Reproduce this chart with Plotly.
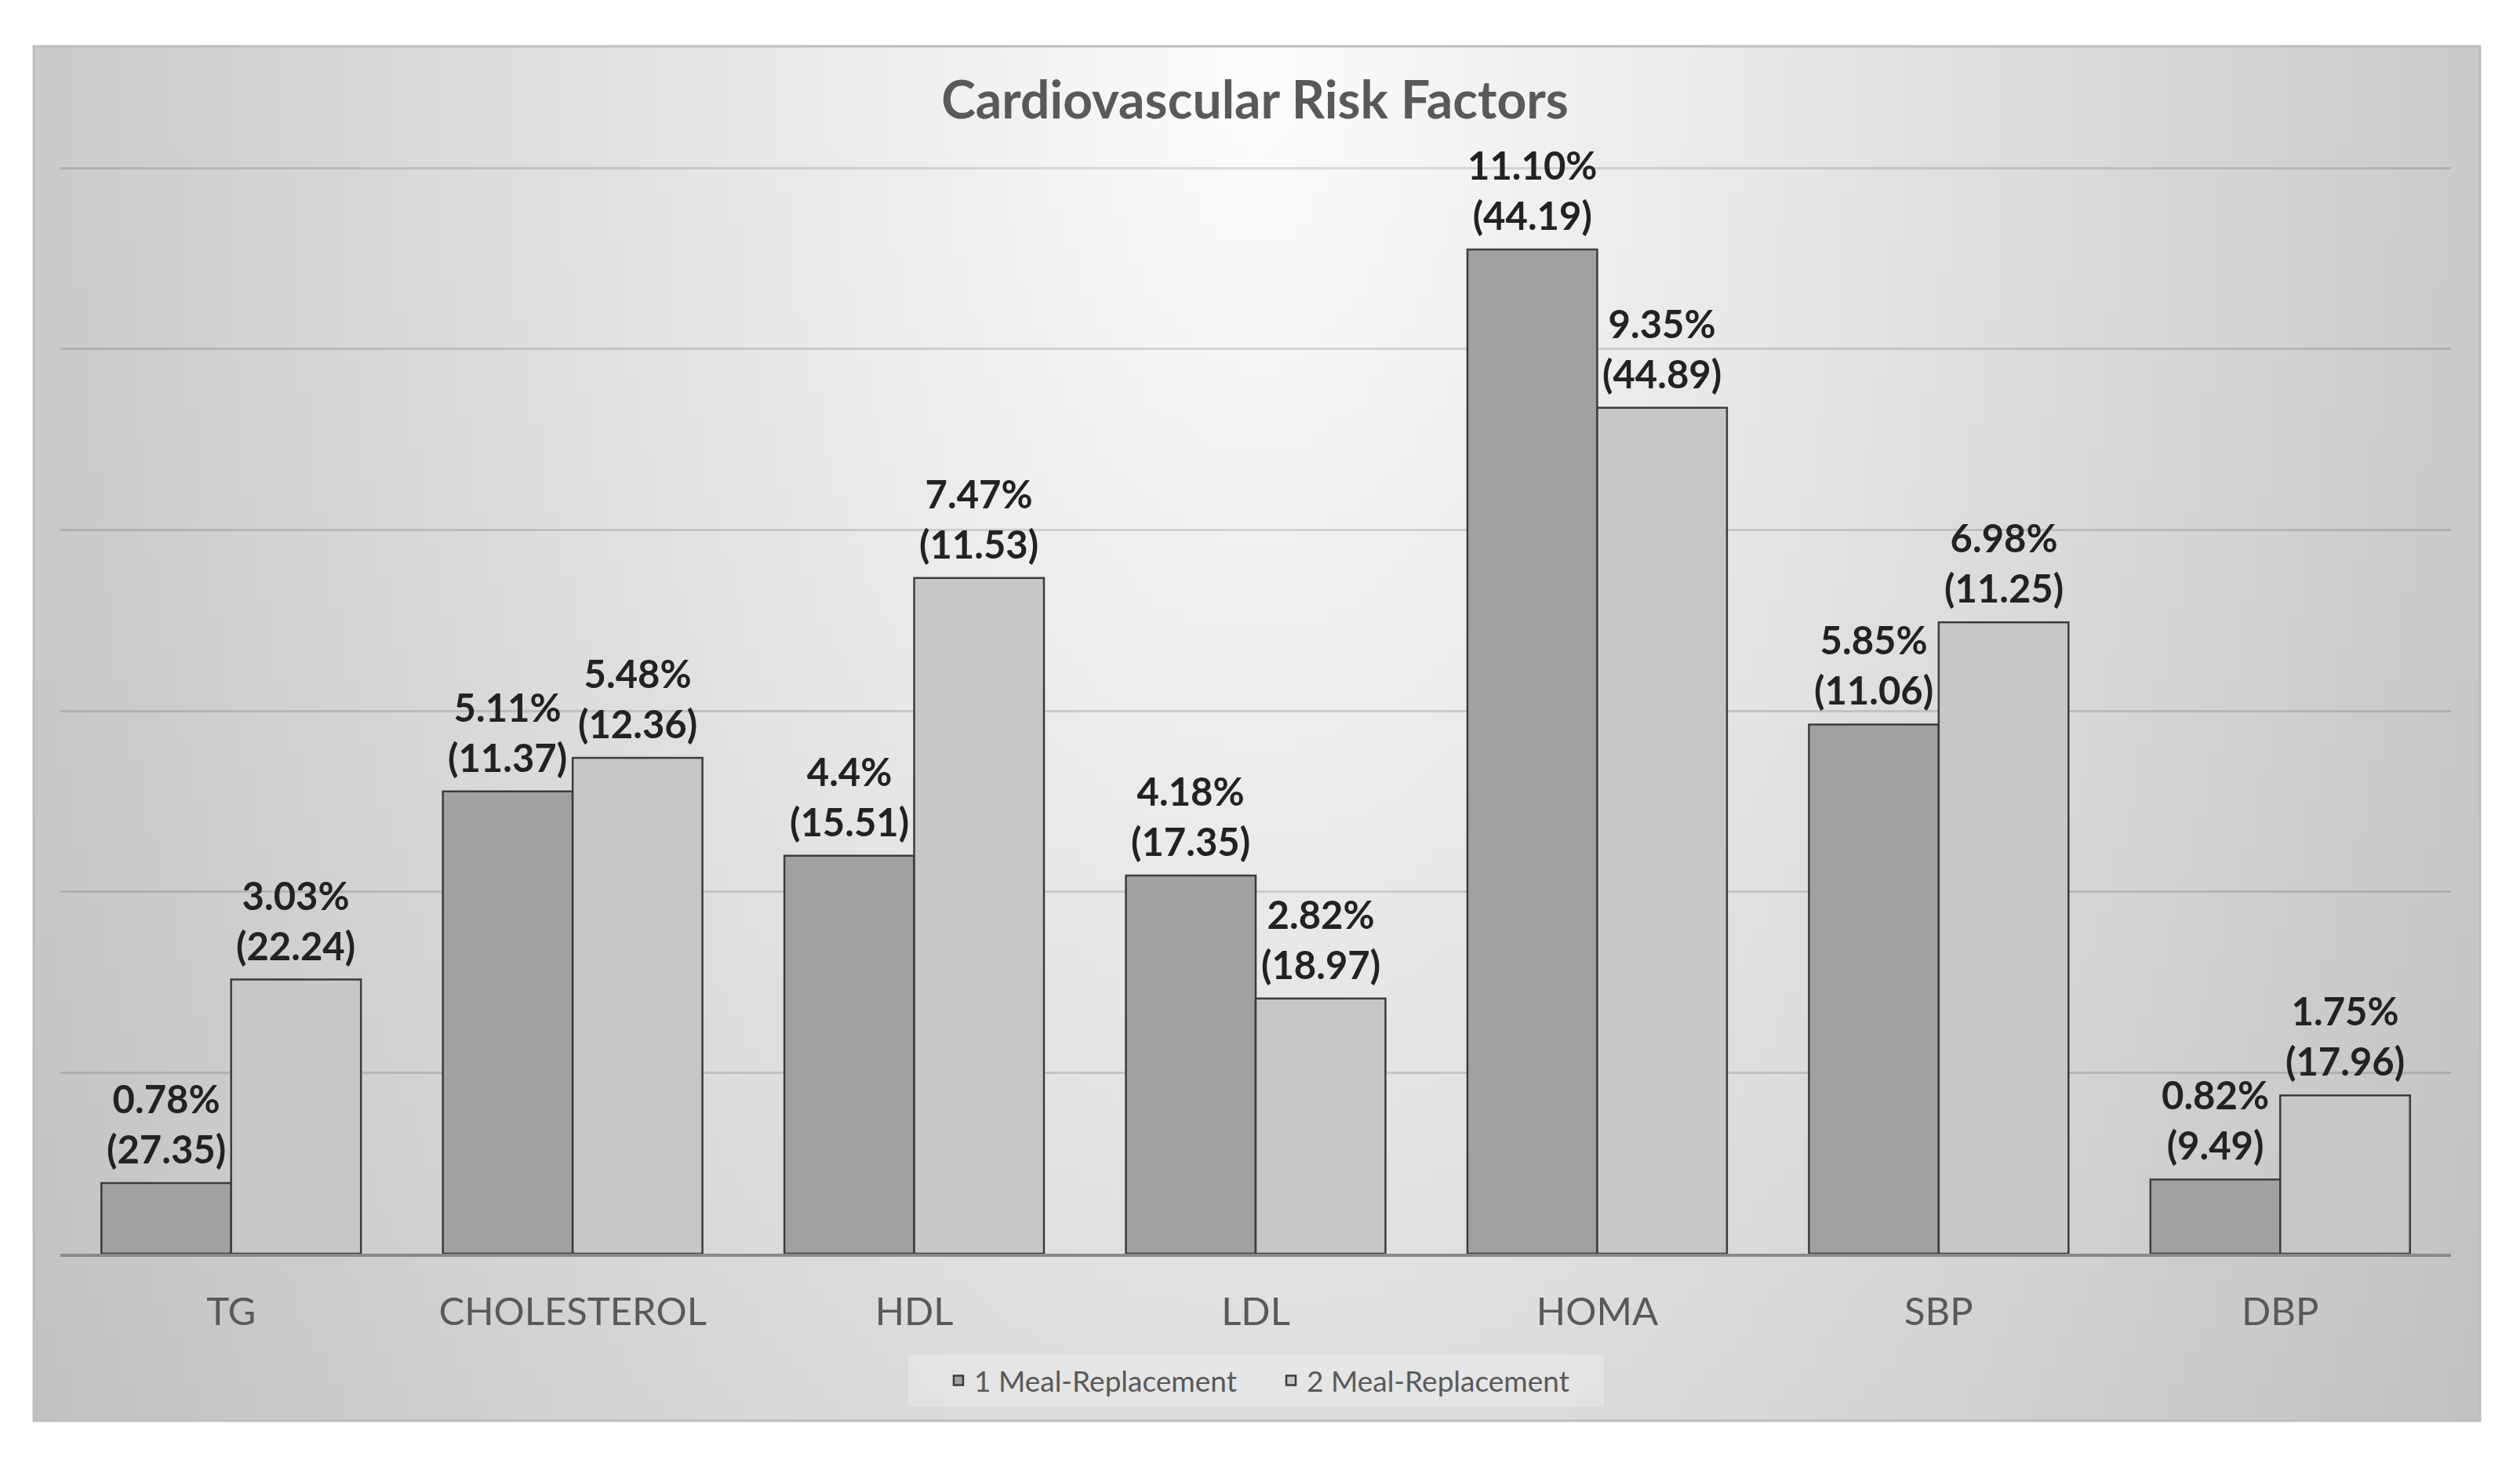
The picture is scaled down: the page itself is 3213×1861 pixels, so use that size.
import base64
import struct
import zlib

import plotly.graph_objects as go

# ---------------- data ----------------
categories = ["TG", "CHOLESTEROL", "HDL", "LDL", "HOMA", "SBP", "DBP"]

one_meal_values = [0.78, 5.11, 4.40, 4.18, 11.10, 5.85, 0.82]
one_meal_pct = ["0.78%", "5.11%", "4.4%", "4.18%", "11.10%", "5.85%", "0.82%"]
one_meal_sd = ["27.35", "11.37", "15.51", "17.35", "44.19", "11.06", "9.49"]

two_meal_values = [3.03, 5.48, 7.47, 2.82, 9.35, 6.98, 1.75]
two_meal_pct = ["3.03%", "5.48%", "7.47%", "2.82%", "9.35%", "6.98%", "1.75%"]
two_meal_sd = ["22.24", "12.36", "11.53", "18.97", "44.89", "11.25", "17.96"]

series_names = ["1 Meal-Replacement", "2 Meal-Replacement"]
title_text = "Cardiovascular Risk Factors"


# ---------------- background gradient (style only) ----------------
def gradient_png(w, h):
    rows = []
    for j in range(h):
        v = j / (h - 1)
        row = bytearray([0])
        for i in range(w):
            u = i / (w - 1)
            dx = (u - 0.5) / 0.5
            dy = (v - 0.02) * 0.64
            d = (dx * dx + dy * dy) ** 0.5
            c = int(max(0, min(255, 253 - 50 * d)))
            row.append(c)
        rows.append(bytes(row))
    raw = b"".join(rows)

    def chunk(tag, data):
        c = struct.pack(">I", len(data)) + tag + data
        return c + struct.pack(">I", zlib.crc32(tag + data) & 0xFFFFFFFF)

    png = b"\x89PNG\r\n\x1a\n"
    png += chunk(b"IHDR", struct.pack(">IIBBBBB", w, h, 8, 0, 0, 0, 0))
    png += chunk(b"IDAT", zlib.compress(raw, 9))
    png += chunk(b"IEND", b"")
    return "data:image/png;base64," + base64.b64encode(png).decode()


W, H = 3213, 1861
OFF = 8  # default page body margin
plot_l, plot_r, plot_t, plot_b = 77 - OFF, 3125 - OFF, 212 - OFF, 1598 - OFF
box_l, box_r, box_t, box_b = 43 - OFF, 3162 - OFF, 59 - OFF, 1811 - OFF
leg_l, leg_r, leg_t, leg_b = 1158 - OFF, 2045 - OFF, 1727 - OFF, 1793 - OFF
BARGAP = 0.24


def px_x(px):
    return (px - plot_l) / (plot_r - plot_l)


def px_y(py):
    return (plot_b - py) / (plot_b - plot_t)


fig = go.Figure()

bar_line = dict(color="#3c3c3c", width=2.5)
label_font = dict(family="Lato", size=49, color="#222222", weight="bold")

fig.add_trace(go.Bar(
    name=series_names[0],
    x=categories,
    y=one_meal_values,
    marker=dict(color="#a1a1a1", line=bar_line),
    hoverinfo="skip",
))
fig.add_trace(go.Bar(
    name=series_names[1],
    x=categories,
    y=two_meal_values,
    marker=dict(color="#c7c7c7", line=bar_line),
    hoverinfo="skip",
))

# value labels above each bar (anchored to the bar's data value)
cat_px = (plot_r - plot_l) / len(categories)
half_bar = (1 - BARGAP) * cat_px / 4
annotations = []
for vals, pcts, sds, sign in (
    (one_meal_values, one_meal_pct, one_meal_sd, -1),
    (two_meal_values, two_meal_pct, two_meal_sd, 1),
):
    for c, v, p, s in zip(categories, vals, pcts, sds):
        annotations.append(dict(
            x=c, y=v, xref="x", yref="y",
            text=f"{p}<br>({s})",
            showarrow=False,
            xanchor="center", yanchor="bottom",
            xshift=sign * half_bar, yshift=13,
            font=label_font,
        ))

fig.update_layout(
    width=W,
    height=H,
    paper_bgcolor="white",
    plot_bgcolor="rgba(0,0,0,0)",
    barmode="group",
    bargap=BARGAP,
    bargroupgap=0,
    margin=dict(l=plot_l, r=W - plot_r, t=plot_t, b=H - plot_b, pad=0),
    title=dict(
        text=title_text,
        xref="container", yref="container",
        x=(1600 - OFF) / W,
        xanchor="center",
        y=1 - (128 - OFF) / H,
        yanchor="middle",
        font=dict(family="Lato", size=66, color="#595959", weight="bold"),
    ),
    font=dict(family="Lato", color="#595959"),
    showlegend=True,
    legend=dict(
        orientation="h",
        xref="container", yref="container",
        x=(1202 - OFF) / W,
        xanchor="left",
        y=1 - (1760 - OFF) / H,
        yanchor="middle",
        bgcolor="rgba(0,0,0,0)",
        borderwidth=0,
        font=dict(family="Lato", size=37, color="#595959"),
        itemwidth=30,
        entrywidth=379,
        traceorder="normal",
    ),
    annotations=annotations,
    images=[dict(
        source=gradient_png(160, 90),
        xref="paper", yref="paper",
        x=px_x(box_l), y=px_y(box_t),
        sizex=px_x(box_r) - px_x(box_l), sizey=px_y(box_t) - px_y(box_b),
        xanchor="left", yanchor="top",
        sizing="stretch",
        layer="below",
    )],
    shapes=[
        dict(
            type="rect",
            xref="paper", yref="paper",
            x0=px_x(box_l), x1=px_x(box_r),
            y0=px_y(box_b), y1=px_y(box_t),
            line=dict(color="#bdbdbd", width=3),
            fillcolor="rgba(0,0,0,0)",
            layer="below",
        ),
        dict(
            type="rect",
            xref="paper", yref="paper",
            x0=px_x(leg_l), x1=px_x(leg_r),
            y0=px_y(leg_b), y1=px_y(leg_t),
            line=dict(width=0),
            fillcolor="rgba(255,255,255,0.25)",
            layer="below",
        ),
    ],
)

fig.update_xaxes(
    showgrid=False,
    showline=True,
    linecolor="#8a8a8a",
    linewidth=4,
    ticks="",
    ticklabelstandoff=28,
    tickfont=dict(family="Lato", size=49, color="#595959"),
)
fig.update_yaxes(
    range=[0, 12.02],
    tickvals=[2, 4, 6, 8, 10, 12],
    showticklabels=False,
    showgrid=True,
    gridcolor="rgba(0,0,0,0.13)",
    gridwidth=3,
    zeroline=False,
    showline=False,
    ticks="",
)

fig.write_html("out.html")
